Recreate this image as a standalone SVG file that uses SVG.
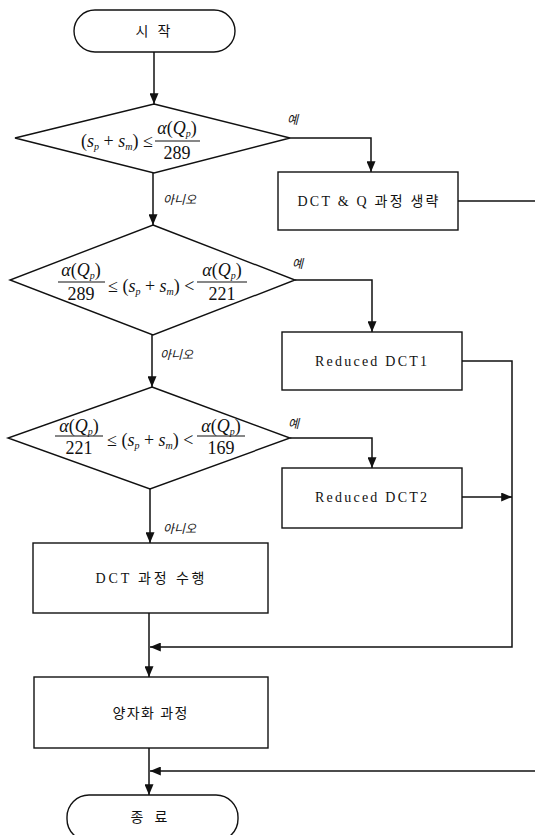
<svg xmlns="http://www.w3.org/2000/svg" width="535" height="835" viewBox="0 0 535 835">
<style>
.shape{fill:#fff;stroke:#111;stroke-width:1.4}
.conn{fill:none;stroke:#111;stroke-width:1.5}
.lbl{font-family:"Liberation Serif","Noto Sans CJK KR",serif;font-size:14px;fill:#111;text-anchor:middle}
.math{font-family:"Liberation Serif","DejaVu Serif",serif;font-size:18px;fill:#111}
.mc{text-anchor:middle}
.it{font-style:italic}
.sub{font-size:10px;font-style:italic}
.bar{stroke:#111;stroke-width:1.2}
.yn{font-family:"Noto Sans CJK KR",sans-serif;font-size:12px;font-style:italic;fill:#111}
</style>
<defs>
<marker id="ah" viewBox="0 0 12 10" refX="12" refY="5" markerWidth="12" markerHeight="9" markerUnits="userSpaceOnUse" orient="auto">
<path d="M0,0 L12,5 L0,10 z" fill="#111"/>
</marker>
</defs>

<g id="connectors">
<path class="conn" d="M154,52 V104" marker-end="url(#ah)"/>
<path class="conn" d="M153,173 V225" marker-end="url(#ah)"/>
<path class="conn" d="M152,335 V387" marker-end="url(#ah)"/>
<path class="conn" d="M150,489 V543" marker-end="url(#ah)"/>
<path class="conn" d="M149,613 V677" marker-end="url(#ah)"/>
<path class="conn" d="M149,748 V795" marker-end="url(#ah)"/>
<path class="conn" d="M290,138 H371 V172" marker-end="url(#ah)"/>
<path class="conn" d="M458,201 H535"/>
<path class="conn" d="M295,280 H372 V332" marker-end="url(#ah)"/>
<path class="conn" d="M462,361 H512 V647 H150" marker-end="url(#ah)"/>
<path class="conn" d="M290,438 H372 V468" marker-end="url(#ah)"/>
<path class="conn" d="M462,497 H512" marker-end="url(#ah)"/>
<path class="conn" d="M535,771 H150" marker-end="url(#ah)"/>
<text class="yn" x="287" y="124">예</text>
<text class="yn" x="163" y="204">아니오</text>
<text class="yn" x="292" y="268">예</text>
<text class="yn" x="160" y="359">아니오</text>
<text class="yn" x="288" y="428">예</text>
<text class="yn" x="163" y="533">아니오</text>
</g>

<g id="start">
<rect class="shape" x="74" y="10" width="161" height="42" rx="21"/>
<text class="lbl" x="153" y="36" textLength="35" lengthAdjust="spacing">시 작</text>
</g>

<g id="decision1">
<polygon class="shape" points="154,104 290,138 154,173 15,138"/>
<text class="math" x="81" y="147">(<tspan class="it">s</tspan><tspan class="sub" dy="3">p</tspan><tspan dy="-3"> + </tspan><tspan class="it">s</tspan><tspan class="sub" dy="3">m</tspan><tspan dy="-3">) ≤</tspan></text>
<text class="math mc" x="177" y="134"><tspan class="it">α</tspan>(<tspan class="it">Q</tspan><tspan class="sub" dy="3">p</tspan><tspan dy="-3">)</tspan></text>
<line class="bar" x1="155" y1="141" x2="200" y2="141"/>
<text class="math mc" x="177" y="159">289</text>
</g>

<g id="box-skip">
<rect class="shape" x="278" y="172" width="180" height="58"/>
<text class="lbl" x="368" y="206" textLength="141" lengthAdjust="spacing">DCT &amp; Q 과정 생략</text>
</g>

<g id="decision2">
<polygon class="shape" points="153,225 295,280 153,335 10,280"/>
<text class="math mc" x="81" y="276"><tspan class="it">α</tspan>(<tspan class="it">Q</tspan><tspan class="sub" dy="3">p</tspan><tspan dy="-3">)</tspan></text>
<line class="bar" x1="58" y1="282" x2="105" y2="282"/>
<text class="math mc" x="81" y="300">289</text>
<text class="math" x="108" y="292">≤ (<tspan class="it">s</tspan><tspan class="sub" dy="3">p</tspan><tspan dy="-3"> + </tspan><tspan class="it">s</tspan><tspan class="sub" dy="3">m</tspan><tspan dy="-3">) &lt;</tspan></text>
<text class="math mc" x="222" y="276"><tspan class="it">α</tspan>(<tspan class="it">Q</tspan><tspan class="sub" dy="3">p</tspan><tspan dy="-3">)</tspan></text>
<line class="bar" x1="197" y1="282" x2="247" y2="282"/>
<text class="math mc" x="222" y="300">221</text>
</g>

<g id="box-rdct1">
<rect class="shape" x="282" y="332" width="180" height="58"/>
<text class="lbl" x="371" y="366" textLength="112" lengthAdjust="spacing">Reduced DCT1</text>
</g>

<g id="decision3">
<polygon class="shape" points="152,387 290,438 150,489 8,438"/>
<text class="math mc" x="79" y="432"><tspan class="it">α</tspan>(<tspan class="it">Q</tspan><tspan class="sub" dy="3">p</tspan><tspan dy="-3">)</tspan></text>
<line class="bar" x1="55" y1="436" x2="103" y2="436"/>
<text class="math mc" x="79" y="454">221</text>
<text class="math" x="107" y="446">≤ (<tspan class="it">s</tspan><tspan class="sub" dy="3">p</tspan><tspan dy="-3"> + </tspan><tspan class="it">s</tspan><tspan class="sub" dy="3">m</tspan><tspan dy="-3">) &lt;</tspan></text>
<text class="math mc" x="221" y="432"><tspan class="it">α</tspan>(<tspan class="it">Q</tspan><tspan class="sub" dy="3">p</tspan><tspan dy="-3">)</tspan></text>
<line class="bar" x1="197" y1="436" x2="245" y2="436"/>
<text class="math mc" x="221" y="454">169</text>
</g>

<g id="box-rdct2">
<rect class="shape" x="282" y="468" width="180" height="60"/>
<text class="lbl" x="371" y="502" textLength="112" lengthAdjust="spacing">Reduced DCT2</text>
</g>

<g id="box-dct">
<rect class="shape" x="33" y="543" width="235" height="70"/>
<text class="lbl" x="150" y="583" textLength="109" lengthAdjust="spacing">DCT 과정 수행</text>
</g>

<g id="box-quant">
<rect class="shape" x="34" y="677" width="234" height="71"/>
<text class="lbl" x="150" y="718" textLength="75" lengthAdjust="spacing">양자화 과정</text>
</g>

<g id="end">
<rect class="shape" x="67" y="795" width="171" height="46" rx="22"/>
<text class="lbl" x="149" y="822" textLength="37" lengthAdjust="spacing">종 료</text>
</g>
</svg>
